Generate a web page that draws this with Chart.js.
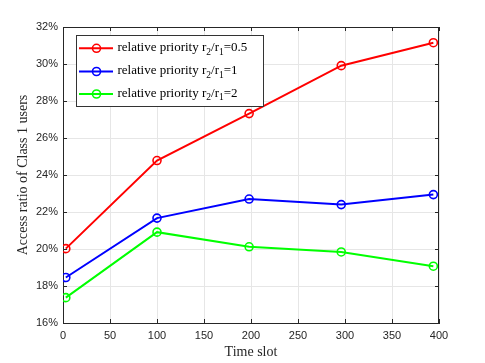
<!DOCTYPE html>
<html><head><meta charset="utf-8">
<script src="https://cdn.jsdelivr.net/npm/chart.js@4"></script>
<style>html,body{margin:0;padding:0;background:#fff}canvas{display:block}</style>
</head><body>
<canvas id="c" width="485" height="363"></canvas>
<script>
const timeSlots = [3, 100, 198, 296, 394];
const ratioHalf = [20.02, 24.78, 27.32, 29.91, 31.15];
const ratioOne  = [18.46, 21.67, 22.70, 22.40, 22.94];
const ratioTwo  = [17.37, 20.91, 20.12, 19.84, 19.07];
const seriesLabels = ["relative priority r_2/r_1=0.5", "relative priority r_2/r_1=1", "relative priority r_2/r_1=2"];
const seriesColors = ["#ff0000", "#0000ff", "#00ff00"];
const xTitle = "Time slot";
const yTitle = "Access ratio of Class 1 users";

const AX = '#262626';
function mk(vals, i) {
  return {
    label: seriesLabels[i],
    data: timeSlots.map((x, k) => ({x: x, y: vals[k]})),
    borderColor: seriesColors[i],
    backgroundColor: 'rgba(0,0,0,0)',
    borderWidth: 2,
    pointRadius: 4,
    pointBorderWidth: 1.6,
    pointBackgroundColor: 'rgba(0,0,0,0)',
    pointBorderColor: seriesColors[i],
    tension: 0
  };
}

const boxPlugin = {
  id: 'box',
  afterDatasetsDraw(chart) {
    const ctx = chart.ctx, a = chart.chartArea;
    const xs = chart.scales.x, ys = chart.scales.y;
    ctx.save();
    ctx.strokeStyle = AX; ctx.lineWidth = 1;
    ctx.beginPath();
    ctx.moveTo(a.left, a.top + 0.5); ctx.lineTo(a.right, a.top + 0.5);
    ctx.moveTo(a.right - 0.5, a.top); ctx.lineTo(a.right - 0.5, a.bottom);
    const L = 4;
    xs.ticks.forEach(t => {
      const p = Math.round(xs.getPixelForValue(t.value)) + 0.5;
      ctx.moveTo(p, a.bottom); ctx.lineTo(p, a.bottom - L);
      ctx.moveTo(p, a.top); ctx.lineTo(p, a.top + L);
    });
    ys.ticks.forEach(t => {
      const p = Math.round(ys.getPixelForValue(t.value)) + 0.5;
      ctx.moveTo(a.left, p); ctx.lineTo(a.left + L, p);
      ctx.moveTo(a.right, p); ctx.lineTo(a.right - L, p);
    });
    ctx.stroke();

    // legend
    const bx = 76.5, by = 35.5, bw = 187, bh = 71;
    ctx.fillStyle = '#fff';
    ctx.fillRect(bx, by, bw, bh);
    ctx.strokeStyle = '#333'; ctx.lineWidth = 1;
    ctx.strokeRect(bx, by, bw, bh);
    const rows = [48.3, 71.5, 94];
    chart.data.datasets.forEach((ds, i) => {
      const y = rows[i];
      ctx.strokeStyle = ds.borderColor; ctx.lineWidth = 2;
      ctx.beginPath(); ctx.moveTo(79, y); ctx.lineTo(113, y); ctx.stroke();
      ctx.lineWidth = 1.6;
      ctx.beginPath(); ctx.arc(96.5, y, 4, 0, Math.PI * 2); ctx.stroke();
      // text with subscripts
      let x = 117.5;
      const base = y + 2.6;
      ctx.fillStyle = '#000';
      ctx.textBaseline = 'alphabetic'; ctx.textAlign = 'left';
      const parts = ds.label.split(/(_\w)/);
      parts.forEach(p => {
        if (!p) return;
        if (p[0] === '_') {
          ctx.font = '9.5px "Liberation Serif"';
          ctx.fillText(p.slice(1), x, base + 3.6);
          x += ctx.measureText(p.slice(1)).width;
        } else {
          ctx.font = '13px "Liberation Serif"';
          ctx.fillText(p, x, base);
          x += ctx.measureText(p).width;
        }
      });
    });
    ctx.restore();
  }
};

new Chart(document.getElementById('c'), {
  type: 'line',
  data: { datasets: [mk(ratioHalf, 0), mk(ratioOne, 1), mk(ratioTwo, 2)] },
  options: {
    responsive: false,
    animation: false,
    devicePixelRatio: 1,
    layout: { padding: { top: 27, right: 46, left: 0, bottom: 0 }, autoPadding: false },
    plugins: { legend: { display: false }, tooltip: { enabled: false } },
    scales: {
      x: {
        type: 'linear', min: 0, max: 400,
        afterFit: s => { s.height = 40; },
        ticks: { stepSize: 50, color: AX, padding: 6, maxRotation: 0,
          font: { family: '"Liberation Sans"', size: 11 } },
        grid: { color: '#e6e6e6', drawTicks: false },
        border: { color: AX, width: 1 },
        title: { display: true, text: xTitle, color: AX, padding: { top: 0, bottom: 2 },
          font: { family: '"Liberation Serif"', size: 14 } }
      },
      y: {
        type: 'linear', min: 16, max: 32,
        afterFit: s => { s.width = 63; },
        ticks: { stepSize: 2, color: AX, padding: 5, callback: v => v + '%',
          font: { family: '"Liberation Sans"', size: 11 } },
        grid: { color: '#e6e6e6', drawTicks: false },
        border: { color: AX, width: 1 },
        title: { display: true, text: yTitle, color: AX, padding: { top: 14.6, bottom: 0 },
          font: { family: '"Liberation Serif"', size: 14 } }
      }
    }
  },
  plugins: [boxPlugin]
});
</script>
</body></html>
